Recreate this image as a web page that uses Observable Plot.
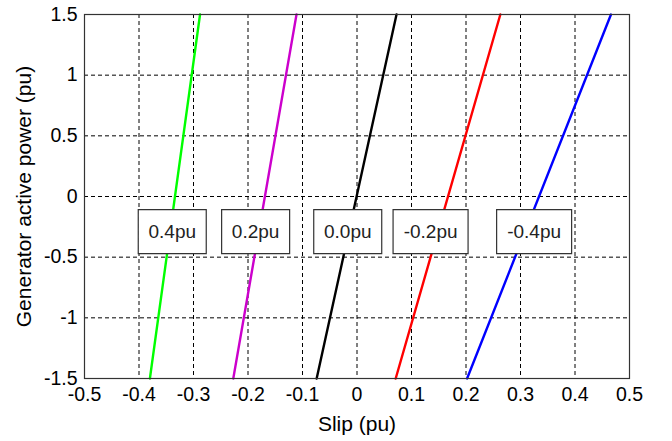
<!DOCTYPE html>
<html>
<head>
<meta charset="utf-8">
<script src="https://cdn.jsdelivr.net/npm/d3@7"></script>
<script src="https://cdn.jsdelivr.net/npm/@observablehq/plot@0.6"></script>
<style>
  html, body { margin: 0; padding: 0; background: #fff; }
</style>
</head>
<body>
<div id="chart"></div>
<script>
// Series: parameter labels and line colours
const seriesLabels = ["0.4pu", "0.2pu", "0.0pu", "-0.2pu", "-0.4pu"];
const seriesColors = ["#00ff00", "#cc00cc", "#000000", "#ff0000", "#0000ff"];
// Slip where each line meets P = -1.5 and P = 1.5
const slipAtPmin = [-0.380, -0.227, -0.074, 0.071, 0.202];
const slipAtPmax = [-0.288, -0.111, 0.0725, 0.263, 0.466];
const powerEnds = [-1.5, 1.5];
// Label box anchors (data coordinates)
const labelSlip = [-0.339, -0.186, -0.017, 0.135, 0.325];
const labelPower = [-0.29, -0.29, -0.29, -0.29, -0.29];
// Tick values
const xTicks = [-0.5, -0.4, -0.3, -0.2, -0.1, 0, 0.1, 0.2, 0.3, 0.4, 0.5];
const yTicks = [-1.5, -1, -0.5, 0, 0.5, 1, 1.5];

const lines = [];
seriesLabels.forEach((s, i) => {
  lines.push({series: s, slip: slipAtPmin[i], power: powerEnds[0]});
  lines.push({series: s, slip: slipAtPmax[i], power: powerEnds[1]});
});
const labels = seriesLabels.map((s, i) => ({series: s, slip: labelSlip[i], power: labelPower[i]}));

const fmt = d => String(+(+d).toFixed(1));
const rectSymbol = (w, h) => ({draw(ctx) { ctx.rect(-w / 2, -h / 2, w, h); }});

const chart = Plot.plot({
  width: 672,
  height: 441,
  marginLeft: 84,
  marginRight: 43,
  marginTop: 14,
  marginBottom: 63,
  style: {fontFamily: "'Liberation Sans', Arial, sans-serif", fontSize: "19px", color: "#000", background: "#fff"},
  x: {domain: [-0.5, 0.5], ticks: xTicks},
  y: {domain: [-1.5, 1.5], ticks: yTicks},
  color: {domain: seriesLabels, range: seriesColors},
  marks: [
    Plot.gridX(xTicks, {stroke: "#000", strokeOpacity: 1, strokeDasharray: "4,3"}),
    Plot.gridY(yTicks, {stroke: "#000", strokeOpacity: 1, strokeDasharray: "4,3"}),
    Plot.line(lines, {x: "slip", y: "power", z: "series", stroke: "series", strokeWidth: 2.4}),
    Plot.dot(labels.filter(d => !d.series.startsWith("-")), {x: "slip", y: "power", symbol: rectSymbol(68, 44), fill: "#fff", stroke: "#333", strokeWidth: 1.2}),
    Plot.dot(labels.filter(d => d.series.startsWith("-")), {x: "slip", y: "power", symbol: rectSymbol(75, 44), fill: "#fff", stroke: "#333", strokeWidth: 1.2}),
    Plot.text(labels, {x: "slip", y: "power", text: "series", fill: "#222", fontSize: 19}),
    Plot.frame({stroke: "#333", strokeWidth: 1.2}),
    Plot.axisX(xTicks, {tickSize: 0, tickPadding: 9, tickFormat: fmt, label: "Slip (pu)", labelArrow: "none", labelAnchor: "center", labelOffset: 52}),
    Plot.axisY(yTicks, {tickSize: 0, tickPadding: 7, tickFormat: fmt, label: "Generator active power (pu)", labelArrow: "none", labelAnchor: "center", labelOffset: 68})
  ]
});
document.getElementById("chart").appendChild(chart);

// enlarge axis text to match the reference
d3.select(chart).selectAll("text").each(function () {
  const g = this.closest("g[aria-label]");
  const lab = g ? g.getAttribute("aria-label") : "";
  if (/tick/.test(lab)) {
    d3.select(g).attr("font-size", null).style("font-size", "19.5px");
    d3.select(this).attr("font-size", null).style("font-size", "19.5px");
  } else if (/axis label/.test(lab)) {
    d3.select(g).attr("font-size", null).style("font-size", "21px");
    d3.select(this).attr("font-size", null).style("font-size", "21px");
  }
});
</script>
</body>
</html>
